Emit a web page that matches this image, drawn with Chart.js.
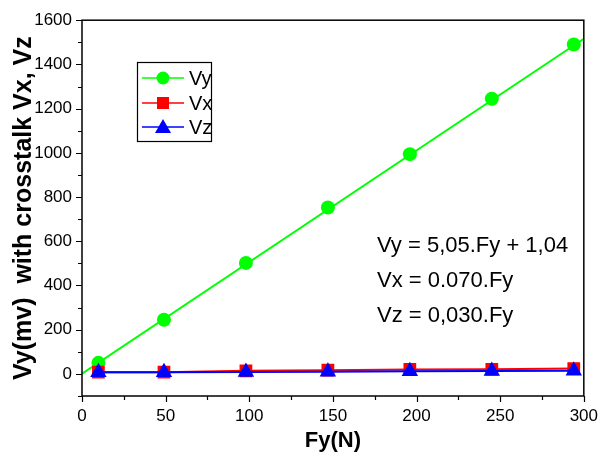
<!DOCTYPE html>
<html>
<head>
<meta charset="utf-8">
<script src="https://cdn.jsdelivr.net/npm/chart.js@4"></script>
<style>
  html, body { margin: 0; padding: 0; background: #fff; }
  #wrap { width: 608px; height: 458px; position: relative; }
</style>
</head>
<body>
<div id="wrap"><canvas id="chart"></canvas></div>
<script>
  // Données
  const fy = [9.8, 49, 98, 147, 196, 245, 294];
  const vy = [50, 245, 502, 753, 994, 1245, 1490];
  const vx = [8, 8, 14, 17, 20, 21, 24];
  const vz = [7, 7, 9, 10, 12, 13, 14];
  // droite de régression tracée de 0 à 300 N
  const fitX = [0, 300];
  const fitY = [1, 1516];

  const seriesNames = ["Vy", "Vx", "Vz"];
  const equations = ["Vy = 5,05.Fy + 1,04", "Vx = 0.070.Fy", "Vz = 0,030.Fy"];

  const xTicks = [0, 50, 100, 150, 200, 250, 300];
  const yTicks = [0, 200, 400, 600, 800, 1000, 1200, 1400, 1600];

  const GREEN = "#00ff00";
  const RED = "#ff0000";
  const BLUE = "#0000ff";
  const FONT = "'Liberation Sans', Arial, sans-serif";

  const toPoints = (xs, ys) => xs.map((x, i) => ({ x, y: ys[i] }));

  // Graduations, cadre, légende et équations
  const decorPlugin = {
    id: "decor",
    afterDraw(chart) {
      const { ctx, chartArea: a, scales } = chart;
      const sx = scales.x, sy = scales.y;
      ctx.save();
      ctx.strokeStyle = "#000";
      ctx.lineWidth = 1.5;
      ctx.strokeRect(a.left, a.top, a.right - a.left, a.bottom - a.top);

      ctx.lineWidth = 1.2;
      ctx.beginPath();
      for (let v = 0; v <= 300; v += 25) {
        const px = Math.round(sx.getPixelForValue(v)) + 0.5;
        const len = v % 50 === 0 ? 6 : 4;
        ctx.moveTo(px, a.bottom);
        ctx.lineTo(px, a.bottom + len);
      }
      for (let v = -100; v <= 1600; v += 100) {
        const py = Math.round(sy.getPixelForValue(v)) + 0.5;
        const len = v % 200 === 0 ? 6 : 4;
        ctx.moveTo(a.left, py);
        ctx.lineTo(a.left - len, py);
      }
      ctx.stroke();

      // légende
      const lx = 137, ly = 62, lw = 74, lh = 79;
      ctx.lineWidth = 1.2;
      ctx.strokeRect(lx + 0.5, ly + 0.5, lw, lh);
      const colors = [GREEN, RED, BLUE];
      const rows = [78, 103, 127];
      ctx.font = "20px " + FONT;
      ctx.textBaseline = "middle";
      rows.forEach((ry, i) => {
        ctx.strokeStyle = colors[i];
        ctx.fillStyle = colors[i];
        ctx.lineWidth = 1.5;
        ctx.beginPath();
        ctx.moveTo(142, ry);
        ctx.lineTo(184, ry);
        ctx.stroke();
        ctx.beginPath();
        if (i === 0) {
          ctx.arc(163, ry, 6.5, 0, Math.PI * 2);
        } else if (i === 1) {
          ctx.rect(157, ry - 6, 12, 12);
        } else {
          ctx.moveTo(163, ry - 8);
          ctx.lineTo(171, ry + 6);
          ctx.lineTo(155, ry + 6);
          ctx.closePath();
        }
        ctx.fill();
        ctx.fillStyle = "#000";
        ctx.fillText(seriesNames[i], 189, ry + 1);
      });

      // équations
      ctx.font = "22px " + FONT;
      ctx.textBaseline = "alphabetic";
      ctx.fillStyle = "#000";
      const baselines = [252, 287, 322];
      equations.forEach((t, i) => ctx.fillText(t, 377, baselines[i]));
      ctx.restore();
    },
  };

  const ctx = document.getElementById("chart").getContext("2d");
  new Chart(ctx, {
    type: "line",
    data: {
      datasets: [
        {
          label: "fit",
          data: toPoints(fitX, fitY),
          borderColor: GREEN,
          borderWidth: 2,
          pointRadius: 0,
          order: 3,
        },
        {
          label: seriesNames[0],
          data: toPoints(fy, vy),
          borderColor: GREEN,
          backgroundColor: GREEN,
          showLine: false,
          pointStyle: "circle",
          pointRadius: 7,
          pointBorderWidth: 0,
          order: 2,
        },
        {
          label: seriesNames[1],
          data: toPoints(fy, vx),
          borderColor: RED,
          backgroundColor: RED,
          borderWidth: 2,
          pointStyle: "rect",
          pointRadius: 9,
          pointBorderWidth: 0,
          order: 1,
        },
        {
          label: seriesNames[2],
          data: toPoints(fy, vz),
          borderColor: BLUE,
          backgroundColor: BLUE,
          borderWidth: 2,
          pointStyle: "triangle",
          pointRadius: 9.5,
          pointBorderWidth: 0,
          order: 0,
        },
      ],
    },
    options: {
      responsive: true,
      maintainAspectRatio: false,
      animation: false,
      layout: { padding: { left: 0, top: 20, right: 16, bottom: 0 } },
      plugins: {
        legend: { display: false },
        tooltip: { enabled: false },
      },
      scales: {
        x: {
          type: "linear",
          min: 0,
          max: 300,
          afterBuildTicks: (s) => { s.ticks = xTicks.map((v) => ({ value: v })); },
          afterFit: (s) => { s.height = 62; },
          grid: { display: false, drawTicks: false },
          border: { display: false },
          ticks: {
            color: "#000",
            font: { family: FONT, size: 17 },
            padding: 10,
            maxRotation: 0,
            callback: (v) => String(v),
          },
          title: {
            display: true,
            text: "Fy(N)",
            color: "#000",
            font: { family: FONT, size: 22, weight: "bold" },
            padding: { top: 0, bottom: 4 },
          },
        },
        y: {
          type: "linear",
          min: -100,
          max: 1600,
          afterBuildTicks: (s) => { s.ticks = yTicks.map((v) => ({ value: v })); },
          afterFit: (s) => { s.width = 82; },
          grid: { display: false, drawTicks: false },
          border: { display: false },
          ticks: {
            color: "#000",
            font: { family: FONT, size: 17 },
            padding: 10,
            callback: (v) => String(v),
          },
          title: {
            display: true,
            text: "Vy(mv)  with crosstalk Vx, Vz",
            color: "#000",
            font: { family: FONT, size: 25, weight: "bold" },
            padding: { top: 9, bottom: 0 },
          },
        },
      },
    },
    plugins: [decorPlugin],
  });
</script>
</body>
</html>
